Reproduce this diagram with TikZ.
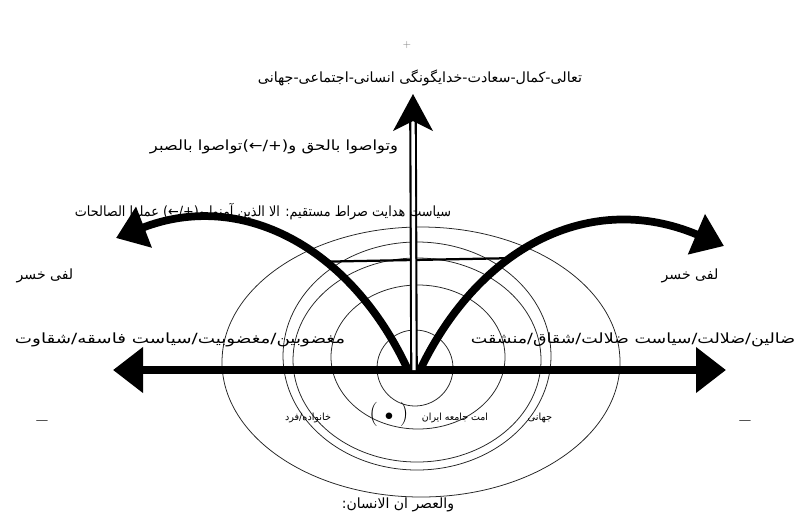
\documentclass[tikz,border=0pt]{standalone}
\usepackage{fontspec}
\usepackage{graphicx}
\newfontfamily\arabicfont[Script=Arabic]{DejaVu Sans}
\TeXXeTstate=1
\usetikzlibrary{arrows.meta}

% label stretched to a given width, natural height kept
\newcommand{\fitw}[2]{\resizebox{#1}{\height}{#2}}

\begin{document}
\begin{tikzpicture}[x=0.025cm,y=-0.025cm,
  txt/.style={inner sep=0pt},
  fa/.style={txt,font=\arabicfont\fontsize{10}{11}\selectfont},
  fasmall/.style={txt,font=\arabicfont\fontsize{7}{8}\selectfont},
  ring/.style={line width=0.55pt,black!85},
  bold/.style={line width=5.5pt},
  bigtip/.style={-{Triangle[length=0.75cm,width=1.05cm]}}]
\useasboundingbox (0,0) rectangle (799,521);

% Centre
\coordinate (o) at (414,370);

% Rings
\foreach \cx/\cy/\rx/\ry in {421/362/199/135,417/356/134/114,417/360/124/102,418/357/87/72,415/368/38/38}
{
\draw[ring] (\cx,\cy) ellipse [x radius=\rx, y radius=\ry];
}

% Horizontal arrow
\coordinate (wl) at (113,370);
\coordinate (wr) at (726,370);
\draw[bold,{Triangle[length=0.75cm,width=1.1cm]}-{Triangle[length=0.75cm,width=1.1cm]}] (wl)--(wr);

% Arcs
\coordinate (al) at (408,370);
\coordinate (ar) at (420,370);
\draw[bold,bigtip] (al) .. controls (350,245) and (240,190) .. (116,238) coordinate[pos=0.37] (lj);
\draw[bold,bigtip] (ar) .. controls (480,245) and (592,190) .. (724,246) coordinate[pos=0.39] (rj);
\draw[line width=1.6pt] (lj)--(rj);

% Vertical arrow
\coordinate (vb) at (413,121);
\coordinate (vt) at (413,94);
\draw[double,line width=1.5pt,double distance=2.4pt] (o)--(vb);
\fill (vt)--(393,131)--(vb)--(433,131)--cycle;

% Labels
\node[txt,gray] (plus) at (407,45) {\scriptsize +};
\node[fa] (top) at (420,78) {\fitw{8.1cm}{\beginR تعالی-کمال-سعادت-خدایگونگی انسانی-اجتماعی-جهانی\endR}};
\node[fa] (sabr) at (274,147) {\fitw{6.2cm}{\beginR وتواصوا بالحق و\beginL(+/←)\endL{}تواصوا بالصبر\endR}};
\node[fa] (hedayat) at (263,212) {\fitw{9.4cm}{\beginR سیاست هدایت صراط مستقیم: الا الذین آمنوا و\beginL(+/←)\endL{} عملوا الصالحات\endR}};
\node[fa] (khl) at (45,276) {\beginR لفی خسر\endR};
\node[fa] (khr) at (690,276) {\beginR لفی خسر\endR};
\node[fa] (ml) at (180,340) {\fitw{8.25cm}{\beginR مغضوبین/مغضوبیت/سیاست فاسقه/شقاوت\endR}};
\node[fa] (mr) at (633,340) {\fitw{8.1cm}{\beginR ضالین/ضلالت/سیاست ضلالت/شقاق/منشقت\endR}};
\node[txt] (minl) at (42,424) {\Large\bfseries --};
\node[txt] (minr) at (745,424) {\Large\bfseries --};
\node[fasmall] (fard) at (308,418) {\fitw{1.15cm}{\beginR خانواده/فرد\endR}};
\node[txt] (dot) at (389,414) {\LARGE$(\;{\scriptstyle\bullet}\;)$};
\node[fasmall] (iran) at (455,418) {\fitw{1.65cm}{\beginR امت جامعه ایران\endR}};
\node[fasmall] (jahan) at (540,418) {\beginR جهانی\endR};
\node[fa] (asr) at (398,505) {\fitw{2.8cm}{\beginR والعصر ان الانسان:\endR}};

\end{tikzpicture}
\end{document}
